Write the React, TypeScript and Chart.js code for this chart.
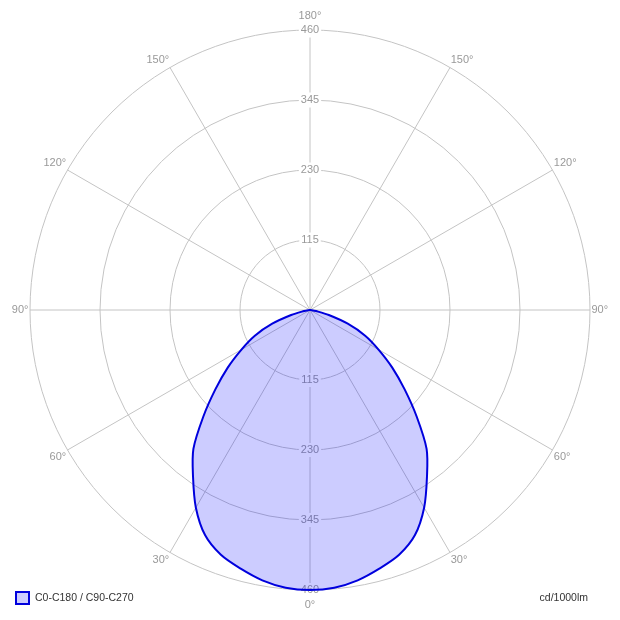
import React, { useEffect, useRef } from "react";
import { Chart, registerables } from "chart.js";

Chart.register(...registerables);

// Gamma angles (deg, 0 = straight down) and luminous intensity (cd/1000lm)
const gammaAngles = [0, 5, 10, 15, 20, 25, 30, 35, 40, 45, 50, 55, 60, 65, 70, 75, 80, 85, 90,
  95, 100, 105, 110, 115, 120, 125, 130, 135, 140, 145, 150, 155, 160, 165, 170, 175, 180];
const intensities = [460, 458, 451, 440, 428, 408, 375, 335, 298, 248, 203, 165, 130, 100, 66, 32, 10, 3, 0,
  0, 0, 0, 0, 0, 0, 0, 0, 0, 0, 0, 0, 0, 0, 0, 0, 0, 0];
const tickValues = [0, 115, 230, 345, 460];
const seriesName = "C0-C180 / C90-C270";
const unitLabel = "cd/1000lm";

const STEP = 5;
const FONT = "'Liberation Sans', Arial, sans-serif";

export default function App() {
  const ref = useRef<HTMLCanvasElement | null>(null);

  useEffect(() => {
    if (!ref.current) return;
    const labels: string[] = [];
    const data: number[] = [];
    for (let a = 0; a < 360; a += STEP) {
      const g = Math.abs(180 - a);
      labels.push(a % 30 === 0 ? `${g}°` : "");
      data.push(intensities[gammaAngles.indexOf(g)]);
    }
    const n = labels.length;

    const bottomTicks = {
      id: "bottomTicks",
      beforeDatasetsDraw(chart: any) {
        const s = chart.scales.r;
        const ctx = chart.ctx;
        ctx.save();
        ctx.font = `11px ${FONT}`;
        ctx.textAlign = "center";
        ctx.textBaseline = "middle";
        tickValues.slice(1).forEach((v) => {
          const y = s.yCenter + s.getDistanceFromCenterForValue(v);
          const t = String(v);
          const w = ctx.measureText(t).width;
          ctx.fillStyle = "#ffffff";
          ctx.fillRect(s.xCenter - w / 2 - 2, y - 7, w + 4, 14);
          ctx.fillStyle = "#999999";
          ctx.fillText(t, s.xCenter, y);
        });
        ctx.restore();
      },
    };

    const labelPadding = (c: any) => {
      const i = c.index;
      if (i === 0) return 0;
      if (i === n / 2) return 1;
      return -6;
    };

    const chart = new Chart(ref.current, {
      type: "radar",
      data: {
        labels,
        datasets: [
          {
            label: seriesName,
            data,
            fill: true,
            backgroundColor: "rgba(0,0,255,0.2)",
            borderColor: "#0000dd",
            borderWidth: 2,
            pointRadius: 0,
            tension: 0.3,
          },
        ],
      },
      options: {
        responsive: false,
        animation: false,
        layout: { padding: { top: 9.3, bottom: 7.3, left: 10.3, right: 8.3 } },
        plugins: { legend: { display: false }, tooltip: { enabled: false } },
        scales: {
          r: {
            min: 0,
            max: 460,
            ticks: {
              stepSize: 115,
              color: "#999999",
              backdropColor: "#ffffff",
              backdropPadding: 2,
              font: { size: 11, family: FONT },
            },
            grid: { circular: true, color: "#c4c4c4", lineWidth: 1 },
            angleLines: {
              color: (c: any) => (c.index % 6 === 0 ? "#c4c4c4" : "rgba(0,0,0,0)"),
              lineWidth: 1,
            },
            pointLabels: {
              color: "#999999",
              font: { size: 11, family: FONT },
              padding: labelPadding,
            },
          },
        },
      },
      plugins: [bottomTicks],
    });
    return () => chart.destroy();
  }, []);

  return (
    <div style={{ position: "absolute", left: 0, top: 0, width: 620, height: 620, background: "#fff" }}>
      <canvas ref={ref} width={620} height={620} style={{ display: "block" }} />
      <div style={{ position: "absolute", left: 15, top: 591, width: 11, height: 10, border: "2px solid #0000dd", background: "rgb(204,204,255)" }} />
      <div style={{ position: "absolute", left: 35, top: 590, font: `10.5px ${FONT}`, color: "#333", lineHeight: "14px" }}>{seriesName}</div>
      <div style={{ position: "absolute", right: 32, top: 590, font: `10.5px ${FONT}`, color: "#333", lineHeight: "14px" }}>{unitLabel}</div>
    </div>
  );
}
